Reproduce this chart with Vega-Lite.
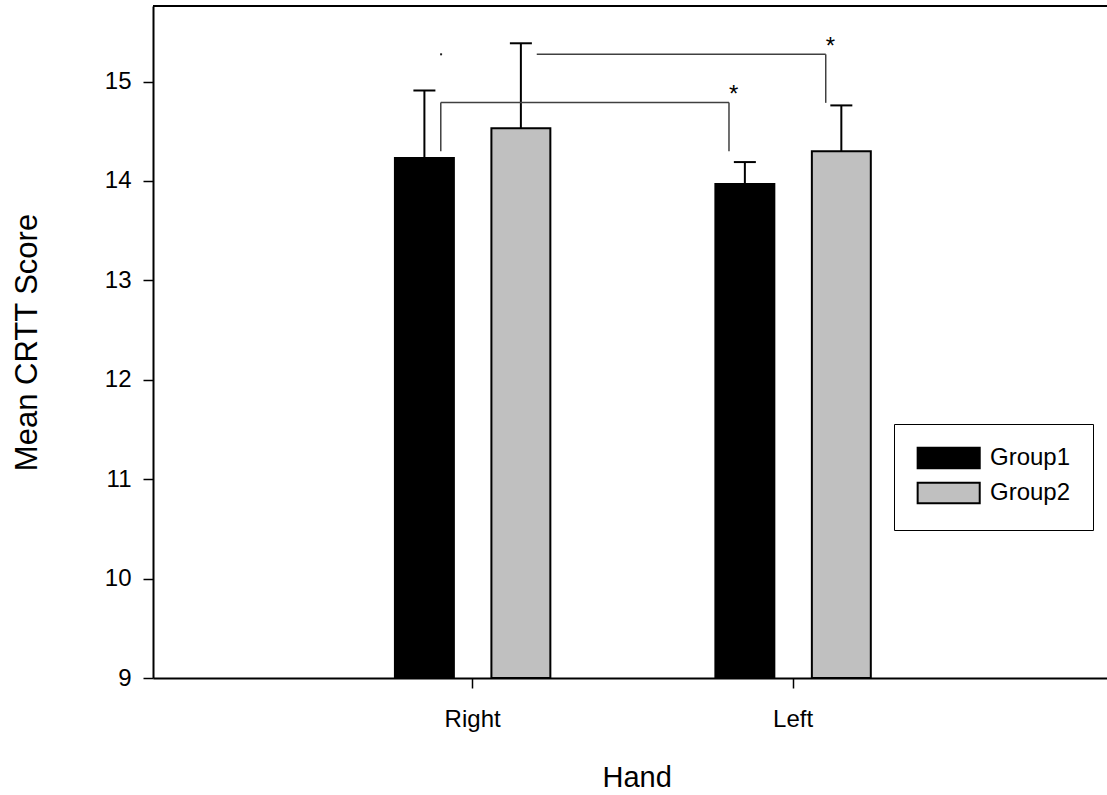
{
  "$schema": "https://vega.github.io/schema/vega-lite/v6.json",
  "autosize": "none",
  "width": 954,
  "height": 672,
  "padding": {"left": 153, "top": 6, "right": 0, "bottom": 117},
  "background": "white",
  "datasets": {
    "bars": [
      {"hand": "Right", "group": "Group1", "mean": 14.23, "upper": 14.91},
      {"hand": "Right", "group": "Group2", "mean": 14.53, "upper": 15.385},
      {"hand": "Left", "group": "Group1", "mean": 13.97, "upper": 14.19},
      {"hand": "Left", "group": "Group2", "mean": 14.30, "upper": 14.76}
    ],
    "brackets": [
      {"b": 1, "from": "Right", "to": "Left", "top": 14.79, "fromLow": 14.30, "toLow": 14.30, "label": "*"},
      {"b": 2, "from": "Right", "to": "Left", "top": 15.274, "fromLow": null, "toLow": 14.786, "label": "*"}
    ]
  },
  "config": {
    "font": "Liberation Sans",
    "view": {"stroke": null},
    "axis": {"grid": false},
    "axisY": {
      "domainColor": "black", "domainWidth": 2,
      "tickColor": "black", "tickWidth": 1.5, "tickSize": 10,
      "labelFontSize": 24, "labelColor": "black", "labelPadding": 12,
      "titleFontSize": 31, "titleFontWeight": "normal", "titleColor": "black",
      "titleX": -117, "titleY": 336, "titleBaseline": "alphabetic", "titleAlign": "center", "titleAngle": 270
    },
    "axisX": {
      "domainColor": "black", "domainWidth": 2,
      "tickColor": "black", "tickWidth": 1.5, "tickSize": 10,
      "labelFontSize": 24, "labelColor": "black", "labelPadding": 38.7, "labelBaseline": "alphabetic", "labelAngle": 0,
      "titleFontSize": 29, "titleFontWeight": "normal", "titleColor": "black",
      "titleX": 483.7, "titleY": 108.7, "titleBaseline": "alphabetic", "titleAlign": "center"
    }
  },
  "layer": [
    {
      "data": {"name": "bars"},
      "mark": {"type": "bar", "stroke": "black", "strokeWidth": 2, "opacity": 1},
      "encoding": {
        "x": {"field": "hand", "type": "nominal", "title": "Hand",
              "scale": {"domain": ["Right", "Left"], "paddingInner": 0.515, "paddingOuter": 0.746, "align": 0.506}},
        "xOffset": {"field": "group", "type": "nominal", "scale": {"domain": ["Group1", "Group2"], "paddingInner": 0.389, "paddingOuter": 0}},
        "y": {"field": "mean", "type": "quantitative", "title": "Mean CRTT Score",
              "scale": {"domain": [9, 15.76], "nice": false, "zero": false},
              "axis": {"values": [9, 10, 11, 12, 13, 14, 15], "format": "d"}},
        "y2": {"datum": 9},
        "color": {"field": "group", "type": "nominal",
                  "scale": {"domain": ["Group1", "Group2"], "range": ["#000000", "#c0c0c0"]},
                  "legend": {
                    "title": null, "orient": "none", "legendX": 741, "legendY": 418,
                    "symbolType": "M-1,-1H5V1H-1Z", "symbolSize": 428,
                    "symbolStrokeColor": "black", "symbolStrokeWidth": 2, "symbolOpacity": 1,
                    "labelFontSize": 24, "labelColor": "black", "labelOffset": 50,
                    "labelExpr": "datum.label + '\u00a0\u00a0'",
                    "padding": 22, "rowPadding": 5,
                    "strokeColor": "black", "fillColor": "white", "cornerRadius": 0
                  }}
      }
    },
    {
      "data": {"name": "bars"},
      "mark": {"type": "rule", "color": "black", "strokeWidth": 2},
      "encoding": {
        "x": {"field": "hand", "type": "nominal", "title": "Hand"},
        "xOffset": {"field": "group", "type": "nominal"},
        "y": {"field": "mean", "type": "quantitative", "title": "Mean CRTT Score"},
        "y2": {"field": "upper", "title": "Mean CRTT Score"}
      }
    },
    {
      "data": {"name": "bars"},
      "mark": {"type": "tick", "orient": "horizontal", "color": "black", "size": 22, "thickness": 2, "opacity": 1},
      "encoding": {
        "x": {"field": "hand", "type": "nominal", "title": "Hand"},
        "xOffset": {"field": "group", "type": "nominal"},
        "y": {"field": "upper", "type": "quantitative", "title": "Mean CRTT Score"}
      }
    },
    {
      "data": {"name": "bars"},
      "mark": {"type": "rule", "color": "black", "strokeWidth": 2},
      "encoding": {
        "y": {"datum": 15.76, "type": "quantitative"}
      }
    },
    {
      "data": {"name": "brackets"},
      "transform": [{"filter": "datum.b == 1"}],
      "mark": {"type": "rule", "color": "#404040", "strokeWidth": 1.5},
      "encoding": {
        "x": {"field": "from", "type": "nominal", "title": "Hand", "bandPosition": 0.295},
        "x2": {"field": "to", "title": "Hand", "bandPosition": 0.0875},
        "y": {"field": "top", "type": "quantitative", "title": "Mean CRTT Score"}
      }
    },
    {
      "data": {"name": "brackets"},
      "transform": [{"filter": "datum.b == 2"}],
      "mark": {"type": "rule", "color": "#404040", "strokeWidth": 1.5},
      "encoding": {
        "x": {"field": "from", "type": "nominal", "title": "Hand", "bandPosition": 0.9125},
        "x2": {"field": "to", "title": "Hand", "bandPosition": 0.71},
        "y": {"field": "top", "type": "quantitative", "title": "Mean CRTT Score"}
      }
    },
    {
      "data": {"name": "brackets"},
      "transform": [{"filter": "datum.b == 1"}],
      "mark": {"type": "rule", "color": "#404040", "strokeWidth": 1.5},
      "encoding": {
        "x": {"field": "from", "type": "nominal", "title": "Hand", "bandPosition": 0.295},
        "y": {"field": "top", "type": "quantitative", "title": "Mean CRTT Score"},
        "y2": {"field": "fromLow", "title": "Mean CRTT Score"}
      }
    },
    {
      "data": {"name": "brackets"},
      "transform": [{"filter": "datum.b == 1"}],
      "mark": {"type": "rule", "color": "#404040", "strokeWidth": 1.5},
      "encoding": {
        "x": {"field": "to", "type": "nominal", "title": "Hand", "bandPosition": 0.0875},
        "y": {"field": "top", "type": "quantitative", "title": "Mean CRTT Score"},
        "y2": {"field": "toLow", "title": "Mean CRTT Score"}
      }
    },
    {
      "data": {"name": "brackets"},
      "transform": [{"filter": "datum.b == 2"}],
      "mark": {"type": "rule", "color": "#404040", "strokeWidth": 1.5},
      "encoding": {
        "x": {"field": "to", "type": "nominal", "title": "Hand", "bandPosition": 0.71},
        "y": {"field": "top", "type": "quantitative", "title": "Mean CRTT Score"},
        "y2": {"field": "toLow", "title": "Mean CRTT Score"}
      }
    },
    {
      "data": {"name": "brackets"},
      "transform": [{"filter": "datum.b == 1"}],
      "mark": {"type": "text", "fontSize": 24, "align": "left", "baseline": "alphabetic", "color": "black"},
      "encoding": {
        "x": {"field": "to", "type": "nominal", "title": "Hand", "bandPosition": 0.0875},
        "y": {"field": "top", "type": "quantitative", "title": "Mean CRTT Score"},
        "text": {"field": "label"}
      }
    },
    {
      "data": {"name": "brackets"},
      "transform": [{"filter": "datum.b == 2"}],
      "mark": {"type": "text", "fontSize": 24, "align": "left", "baseline": "alphabetic", "color": "black"},
      "encoding": {
        "x": {"field": "to", "type": "nominal", "title": "Hand", "bandPosition": 0.71},
        "y": {"field": "top", "type": "quantitative", "title": "Mean CRTT Score"},
        "text": {"field": "label"}
      }
    },
    {
      "data": {"name": "brackets"},
      "transform": [{"filter": "datum.b == 2"}],
      "mark": {"type": "point", "shape": "square", "filled": true, "size": 4, "color": "#202020", "opacity": 1},
      "encoding": {
        "x": {"field": "from", "type": "nominal", "title": "Hand", "bandPosition": 0.297},
        "y": {"field": "top", "type": "quantitative", "title": "Mean CRTT Score"}
      }
    }
  ]
}
